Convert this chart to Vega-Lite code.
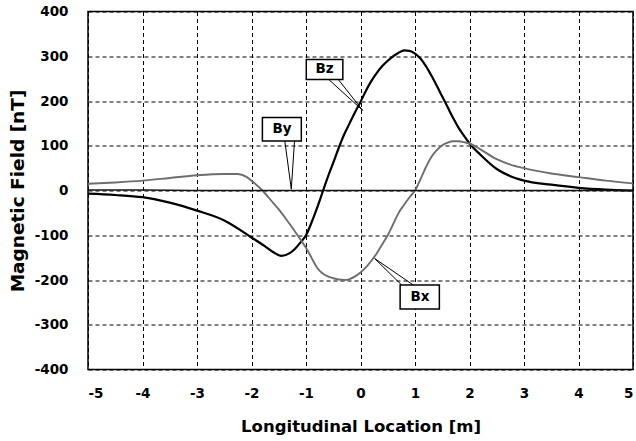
{
  "$schema": "https://vega.github.io/schema/vega-lite/v6.json",
  "autosize": {"type": "none"},
  "padding": {"left": 88, "top": 11.5, "right": 3, "bottom": 71.5},
  "width": 545,
  "height": 358,
  "background": "white",
  "config": {
    "view": {"stroke": "black", "strokeWidth": 1.5},
    "font": "DejaVu Sans",
    "axis": {
      "grid": true,
      "gridColor": "black",
      "gridDash": [4, 3],
      "gridWidth": 1,
      "gridOpacity": 1,
      "ticks": false,
      "domain": false,
      "labelFont": "DejaVu Sans",
      "labelFontWeight": "bold",
      "labelFontSize": 13.5,
      "labelColor": "black",
      "labelExpr": "replace(datum.label, '−', '-')",
      "titleFont": "DejaVu Sans",
      "titleFontWeight": "bold",
      "titleColor": "black"
    }
  },
  "datasets": {
    "curves": [
      {"s": "Bz", "x": -5, "y": -7}, {"s": "Bz", "x": -4.5, "y": -10}, {"s": "Bz", "x": -4, "y": -15},
      {"s": "Bz", "x": -3.5, "y": -27}, {"s": "Bz", "x": -3, "y": -45}, {"s": "Bz", "x": -2.5, "y": -67},
      {"s": "Bz", "x": -2, "y": -105}, {"s": "Bz", "x": -1.75, "y": -125}, {"s": "Bz", "x": -1.6, "y": -138},
      {"s": "Bz", "x": -1.45, "y": -146}, {"s": "Bz", "x": -1.3, "y": -140}, {"s": "Bz", "x": -1.2, "y": -130},
      {"s": "Bz", "x": -1.1, "y": -116}, {"s": "Bz", "x": -1, "y": -100}, {"s": "Bz", "x": -0.9, "y": -72},
      {"s": "Bz", "x": -0.8, "y": -40}, {"s": "Bz", "x": -0.7, "y": -5}, {"s": "Bz", "x": -0.6, "y": 30},
      {"s": "Bz", "x": -0.5, "y": 62}, {"s": "Bz", "x": -0.4, "y": 95}, {"s": "Bz", "x": -0.3, "y": 125},
      {"s": "Bz", "x": -0.2, "y": 150}, {"s": "Bz", "x": -0.1, "y": 175}, {"s": "Bz", "x": 0, "y": 198},
      {"s": "Bz", "x": 0.1, "y": 223}, {"s": "Bz", "x": 0.2, "y": 245}, {"s": "Bz", "x": 0.3, "y": 263},
      {"s": "Bz", "x": 0.4, "y": 278}, {"s": "Bz", "x": 0.5, "y": 290}, {"s": "Bz", "x": 0.6, "y": 300},
      {"s": "Bz", "x": 0.7, "y": 308}, {"s": "Bz", "x": 0.8, "y": 313}, {"s": "Bz", "x": 0.9, "y": 312},
      {"s": "Bz", "x": 1.0, "y": 306}, {"s": "Bz", "x": 1.1, "y": 295}, {"s": "Bz", "x": 1.2, "y": 278},
      {"s": "Bz", "x": 1.3, "y": 257}, {"s": "Bz", "x": 1.4, "y": 234}, {"s": "Bz", "x": 1.5, "y": 210},
      {"s": "Bz", "x": 1.6, "y": 186}, {"s": "Bz", "x": 1.7, "y": 162}, {"s": "Bz", "x": 1.8, "y": 140},
      {"s": "Bz", "x": 1.9, "y": 122}, {"s": "Bz", "x": 2.0, "y": 105}, {"s": "Bz", "x": 2.2, "y": 80},
      {"s": "Bz", "x": 2.5, "y": 48}, {"s": "Bz", "x": 2.75, "y": 32}, {"s": "Bz", "x": 3, "y": 22},
      {"s": "Bz", "x": 3.5, "y": 13}, {"s": "Bz", "x": 4, "y": 6}, {"s": "Bz", "x": 4.5, "y": 2},
      {"s": "Bz", "x": 5, "y": 0},
      {"s": "Bx", "x": -5, "y": 15}, {"s": "Bx", "x": -4.5, "y": 18}, {"s": "Bx", "x": -4, "y": 22},
      {"s": "Bx", "x": -3.5, "y": 28}, {"s": "Bx", "x": -3, "y": 34}, {"s": "Bx", "x": -2.5, "y": 37},
      {"s": "Bx", "x": -2.25, "y": 37}, {"s": "Bx", "x": -2.1, "y": 31}, {"s": "Bx", "x": -2, "y": 22},
      {"s": "Bx", "x": -1.8, "y": 0}, {"s": "Bx", "x": -1.6, "y": -28}, {"s": "Bx", "x": -1.5, "y": -42},
      {"s": "Bx", "x": -1.4, "y": -58}, {"s": "Bx", "x": -1.3, "y": -75}, {"s": "Bx", "x": -1.2, "y": -92},
      {"s": "Bx", "x": -1.1, "y": -110}, {"s": "Bx", "x": -1, "y": -128}, {"s": "Bx", "x": -0.9, "y": -150},
      {"s": "Bx", "x": -0.8, "y": -172}, {"s": "Bx", "x": -0.7, "y": -185}, {"s": "Bx", "x": -0.6, "y": -192},
      {"s": "Bx", "x": -0.5, "y": -196}, {"s": "Bx", "x": -0.4, "y": -199}, {"s": "Bx", "x": -0.3, "y": -200},
      {"s": "Bx", "x": -0.2, "y": -198}, {"s": "Bx", "x": -0.1, "y": -192}, {"s": "Bx", "x": 0, "y": -183},
      {"s": "Bx", "x": 0.1, "y": -172}, {"s": "Bx", "x": 0.2, "y": -157}, {"s": "Bx", "x": 0.3, "y": -140},
      {"s": "Bx", "x": 0.4, "y": -120}, {"s": "Bx", "x": 0.5, "y": -100}, {"s": "Bx", "x": 0.6, "y": -75},
      {"s": "Bx", "x": 0.7, "y": -50}, {"s": "Bx", "x": 0.8, "y": -32}, {"s": "Bx", "x": 0.9, "y": -15},
      {"s": "Bx", "x": 1.0, "y": 0}, {"s": "Bx", "x": 1.1, "y": 25}, {"s": "Bx", "x": 1.2, "y": 52},
      {"s": "Bx", "x": 1.3, "y": 75}, {"s": "Bx", "x": 1.4, "y": 90}, {"s": "Bx", "x": 1.5, "y": 101},
      {"s": "Bx", "x": 1.6, "y": 107}, {"s": "Bx", "x": 1.7, "y": 110}, {"s": "Bx", "x": 1.8, "y": 110},
      {"s": "Bx", "x": 1.9, "y": 108}, {"s": "Bx", "x": 2.0, "y": 105}, {"s": "Bx", "x": 2.2, "y": 92},
      {"s": "Bx", "x": 2.5, "y": 70}, {"s": "Bx", "x": 2.75, "y": 58}, {"s": "Bx", "x": 3, "y": 50},
      {"s": "Bx", "x": 3.5, "y": 38}, {"s": "Bx", "x": 4, "y": 30}, {"s": "Bx", "x": 4.5, "y": 22},
      {"s": "Bx", "x": 5, "y": 16},
      {"s": "By", "x": -5, "y": 1}, {"s": "By", "x": -4, "y": 1}, {"s": "By", "x": -3, "y": 0},
      {"s": "By", "x": -2, "y": 0}, {"s": "By", "x": -1, "y": 0}, {"s": "By", "x": 0, "y": 0},
      {"s": "By", "x": 1, "y": 0}, {"s": "By", "x": 2, "y": 0}, {"s": "By", "x": 3, "y": 0},
      {"s": "By", "x": 4, "y": 0}, {"s": "By", "x": 5, "y": 0}
    ],
    "boxes": [
      {"lab": "Bz", "x1": -0.995, "x2": -0.324, "y1": 293, "y2": 248, "tx": -0.66, "ty": 271},
      {"lab": "By", "x1": -1.80, "x2": -1.086, "y1": 163, "y2": 110.5, "tx": -1.44, "ty": 137},
      {"lab": "Bx", "x1": 0.727, "x2": 1.447, "y1": -211, "y2": -265, "tx": 1.09, "ty": -238}
    ],
    "pointers": [
      {"x": -0.60, "y": 250, "x2": 0.04, "y2": 179},
      {"x": -0.42, "y": 250, "x2": 0.04, "y2": 179},
      {"x": -1.39, "y": 112, "x2": -1.27, "y2": 3},
      {"x": -1.21, "y": 112, "x2": -1.27, "y2": 3},
      {"x": 0.77, "y": -213, "x2": 0.26, "y2": -152},
      {"x": 0.99, "y": -213, "x2": 0.26, "y2": -152}
    ]
  },
  "layer": [
    {
      "data": {"name": "curves"},
      "mark": {"type": "line", "interpolate": "monotone"},
      "encoding": {
        "x": {
          "field": "x", "type": "quantitative",
          "scale": {"domain": [-5, 5], "nice": false, "zero": false},
          "axis": {
            "values": [-5, -4, -3, -2, -1, 0, 1, 2, 3, 4, 5],
            "labelPadding": 17,
            "title": "Longitudinal Location [m]",
            "titleFontSize": 16.5,
            "titleY": 62,
            "titleBaseline": "alphabetic"
          }
        },
        "y": {
          "field": "y", "type": "quantitative",
          "scale": {"domain": [-400, 400], "nice": false},
          "axis": {
            "values": [-400, -300, -200, -100, 0, 100, 200, 300, 400],
            "labelPadding": 20,
            "title": "Magnetic Field [nT]",
            "titleFontSize": 18.5,
            "titleX": -71,
            "titleBaseline": "middle"
          }
        },
        "detail": {"field": "s"},
        "color": {
          "field": "s", "type": "nominal",
          "scale": {"domain": ["Bz", "Bx", "By"], "range": ["#000000", "#6e6e6e", "#111111"]},
          "legend": null
        },
        "strokeWidth": {
          "field": "s", "type": "nominal",
          "scale": {"domain": ["Bz", "Bx", "By"], "range": [2.2, 1.6, 2]},
          "legend": null
        }
      }
    },
    {
      "data": {"name": "pointers"},
      "mark": {"type": "rule", "color": "black", "strokeWidth": 1},
      "encoding": {
        "x": {"field": "x", "type": "quantitative"},
        "y": {"field": "y", "type": "quantitative"},
        "x2": {"field": "x2"},
        "y2": {"field": "y2"}
      }
    },
    {
      "data": {"name": "boxes"},
      "mark": {"type": "rect", "fill": "white", "stroke": "black", "strokeWidth": 1.5},
      "encoding": {
        "x": {"field": "x1", "type": "quantitative"},
        "x2": {"field": "x2"},
        "y": {"field": "y1", "type": "quantitative"},
        "y2": {"field": "y2"}
      }
    },
    {
      "data": {"name": "boxes"},
      "mark": {"type": "text", "font": "DejaVu Sans", "fontWeight": "bold", "fontSize": 13.5, "color": "black", "align": "center", "baseline": "middle"},
      "encoding": {
        "x": {"field": "tx", "type": "quantitative"},
        "y": {"field": "ty", "type": "quantitative"},
        "text": {"field": "lab"}
      }
    }
  ]
}
